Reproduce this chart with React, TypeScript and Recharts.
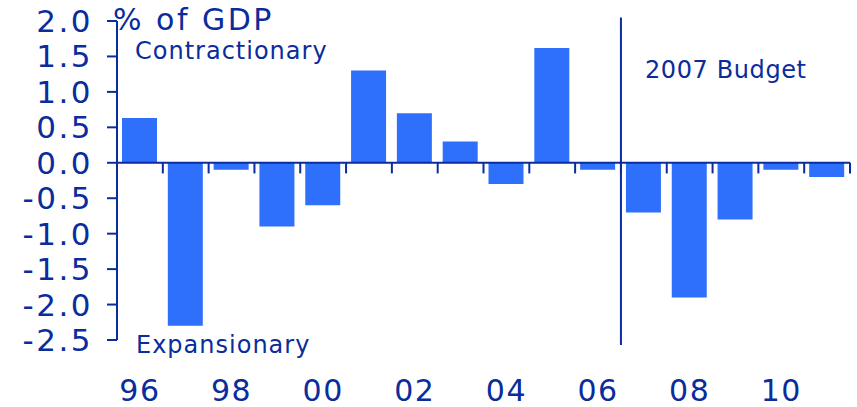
import React from "react";
import { BarChart, Bar, XAxis, YAxis, ReferenceLine, Customized } from "recharts";

const years = ["96", "97", "98", "99", "00", "01", "02", "03", "04", "05", "06", "07", "08", "09", "10", "11"];
const balance = [0.63, -2.3, -0.1, -0.9, -0.6, 1.3, 0.7, 0.3, -0.3, 1.62, -0.1, -0.7, -1.9, -0.8, -0.1, -0.2];
const yTicks = [-2.5, -2, -1.5, -1, -0.5, 0, 0.5, 1, 1.5, 2];
const labelTicks = [0, 2, 4, 6, 8, 10, 12, 14];
const budgetBreak = 10.5; // between 06 and 07

const data = years.map((year, i) => ({ idx: i, year, value: balance[i] }));
const boundaries = years.map((_, i) => i + 0.5);

const navy = "#0a2c9c";
const barBlue = "#2e6ffb";
const font = "'DejaVu Sans', Verdana, sans-serif";

function Notes() {
  const common = { fill: navy, fontFamily: font };
  return (
    <g>
      <text x={113} y={30} fontSize={30} letterSpacing={2.5} {...common}>% of GDP</text>
      <text x={135} y={59} fontSize={24} letterSpacing={1} {...common}>Contractionary</text>
      <text x={136} y={353} fontSize={24} letterSpacing={1} {...common}>Expansionary</text>
      <text x={645} y={78} fontSize={24} letterSpacing={0.6} {...common}>2007 Budget</text>
    </g>
  );
}

export default function App() {
  return (
    <div style={{ position: "absolute", left: 0, top: 0, background: "#fff" }}>
      <BarChart width={857} height={407} data={data} margin={{ top: 21, right: 7, bottom: 7, left: 0 }}>
        <XAxis
          dataKey="idx"
          type="number"
          domain={[-0.5, 15.5]}
          ticks={labelTicks}
          interval={0}
          tickFormatter={(v) => years[v]}
          axisLine={false}
          tickLine={false}
          tickSize={0}
          tickMargin={40}
          height={60}
          tick={{ fill: navy, fontSize: 30, fontFamily: font, letterSpacing: 1.5 }}
        />
        <YAxis
          domain={[-2.5, 2]}
          ticks={yTicks}
          interval={0}
          width={117}
          tickFormatter={(v) => v.toFixed(1)}
          stroke={navy}
          strokeWidth={2}
          tickSize={10}
          tickMargin={14}
          tick={{ fill: navy, fontSize: 31, fontFamily: font, letterSpacing: 2.5 }}
        />
        <Bar dataKey="value" fill={barBlue} barSize={35} isAnimationActive={false} />
        <ReferenceLine y={0} stroke={navy} strokeWidth={2} />
        {boundaries.map((b) => (
          <ReferenceLine
            key={b}
            segment={[{ x: b, y: 0 }, { x: b, y: -0.15 }]}
            stroke={navy}
            strokeWidth={2}
          />
        ))}
        <ReferenceLine
          segment={[{ x: budgetBreak, y: 2.05 }, { x: budgetBreak, y: -2.57 }]}
          ifOverflow="visible"
          stroke={navy}
          strokeWidth={2}
        />
        <Customized component={Notes} />
      </BarChart>
    </div>
  );
}
